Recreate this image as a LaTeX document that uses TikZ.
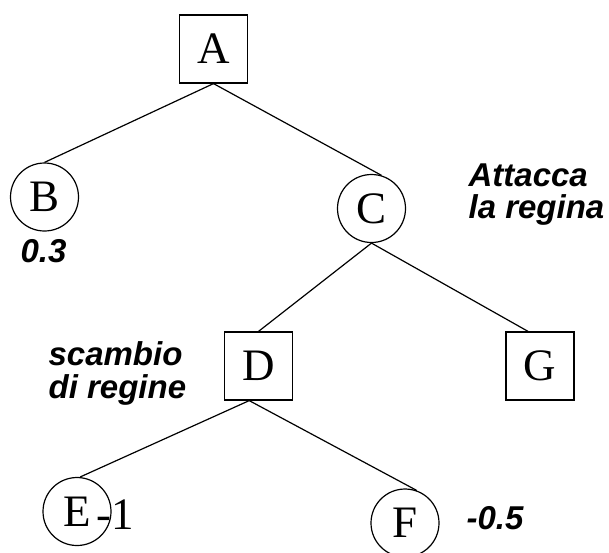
\documentclass[tikz,border=0pt]{standalone}
\usepackage{fontspec}
\setmainfont{Liberation Serif}
\setsansfont{Liberation Sans}
\tikzset{
  maxnode/.style={draw,line width=1.2pt,minimum size=68pt,inner sep=0pt,font=\fontsize{45}{45}\selectfont},
  chancenode/.style={draw,circle,line width=1.2pt,minimum size=68pt,inner sep=0pt,font=\fontsize{45}{45}\selectfont},
  note/.style={inner sep=0pt,align=left,font=\sffamily\bfseries\itshape\fontsize{33}{32.5}\selectfont}
}
\begin{document}
\begin{tikzpicture}[x=1pt,y=-1pt,line width=1.2pt]
\useasboundingbox (0,0) rectangle (609,552);

% Draw the tree nodes
\node[maxnode] (A) at (213.5,49) {A};
\node[chancenode] (B) at (44.5,197) {B};
\node[chancenode] (C) at (371.5,208.5) {C};
\node[maxnode] (D) at (258.5,366) {D};
\node[maxnode] (G) at (540,366) {G};
\node[chancenode] (E) at (77,511.5) {E};
\node[chancenode] (F) at (405,523) {F};

% Draw the branches
\draw (A.south) -- (B.north);
\draw (A.south) -- (C.73);
\draw (C.south) -- (D.north);
\draw (C.south) -- (G.109);
\draw (D.255) -- (E.85);
\draw (D.255) -- (F.70);

% Draw the values and comments
\node[note,anchor=base west] (vB) at (20,262) {0.3};
\node[note,anchor=base west] (vF) at (466,529) {-0.5};
\node[anchor=base west,inner sep=0pt,font=\fontsize{45}{45}\selectfont] (vE) at (96,529) {-1};
\node[note,anchor=north west] (mC) at (468,163) {Attacca\\la regina};
\node[note,anchor=north west] (mD) at (48,341) {scambio\\di regine};

\end{tikzpicture}
\end{document}
